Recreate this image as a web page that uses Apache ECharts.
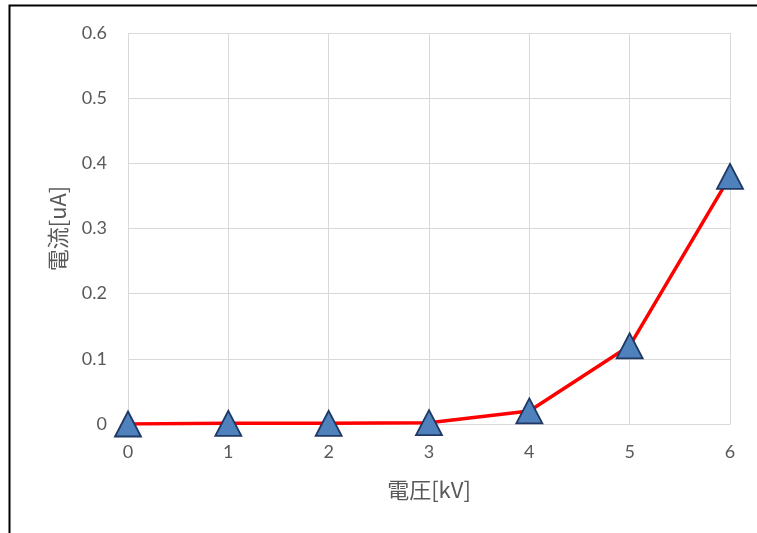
<!DOCTYPE html>
<html>
<head>
<meta charset="utf-8">
<script src="https://cdn.jsdelivr.net/npm/echarts@6/dist/echarts.min.js"></script>
<style>
  html, body { margin: 0; padding: 0; background: #fff; }
  #chart { width: 757px; height: 533px; }
</style>
</head>
<body>
<div id="chart"></div>
<script>
// Voltage steps (kV) and measured current (uA)
const voltageKV = [0, 1, 2, 3, 4, 5, 6];
const currentUA = [0, 0.001, 0.001, 0.002, 0.02, 0.12, 0.38];
const yTicks = { min: 0, max: 0.6, interval: 0.1 };
const xTicks = { min: 0, max: 6, interval: 1 };

const points = voltageKV.map((v, i) => [v, currentUA[i]]);

const numFont = 'Lato, "Noto Sans", sans-serif';
const jpFont = '"Noto Sans CJK JP", sans-serif';
const gridColor = '#d9d9d9';
const textColor = '#595959';

const chart = echarts.init(document.getElementById('chart'));
chart.setOption({
  animation: false,
  backgroundColor: '#ffffff',
  graphic: [{
    type: 'rect',
    shape: { x: 9.5, y: 5.5, width: 820, height: 620 },
    style: { fill: 'none', stroke: '#000000', lineWidth: 2 },
    silent: true
  }],
  grid: { left: 128, right: 27, top: 33, bottom: 109, containLabel: false },
  xAxis: {
    type: 'value',
    min: xTicks.min, max: xTicks.max, interval: xTicks.interval,
    name: '電圧[kV]',
    nameLocation: 'middle',
    nameGap: 55,
    nameTextStyle: { fontFamily: jpFont, fontSize: 22, color: textColor },
    axisLine: { show: true, lineStyle: { color: gridColor, width: 1 } },
    axisTick: { show: false },
    axisLabel: { fontFamily: numFont, fontSize: 18, color: textColor, margin: 19 },
    splitLine: { show: true, lineStyle: { color: gridColor, width: 1 } }
  },
  yAxis: {
    type: 'value',
    min: yTicks.min, max: yTicks.max, interval: yTicks.interval,
    name: '電流[uA]',
    nameLocation: 'middle',
    nameGap: 59,
    nameTextStyle: { fontFamily: jpFont, fontSize: 22, color: textColor },
    axisLine: { show: false },
    axisTick: { show: false },
    axisLabel: {
      fontFamily: numFont, fontSize: 18, color: textColor, margin: 21,
      formatter: v => (v === 0 ? '0' : v.toFixed(1))
    },
    splitLine: { show: true, lineStyle: { color: gridColor, width: 1 } }
  },
  series: [{
    type: 'line',
    data: points,
    smooth: false,
    lineStyle: { color: '#ff0000', width: 3.5 },
    symbol: 'triangle',
    symbolSize: [26, 25],
    itemStyle: { color: '#4f81bd', borderColor: '#1f3864', borderWidth: 1.8 },
    z: 3
  }]
});
</script>
</body>
</html>
